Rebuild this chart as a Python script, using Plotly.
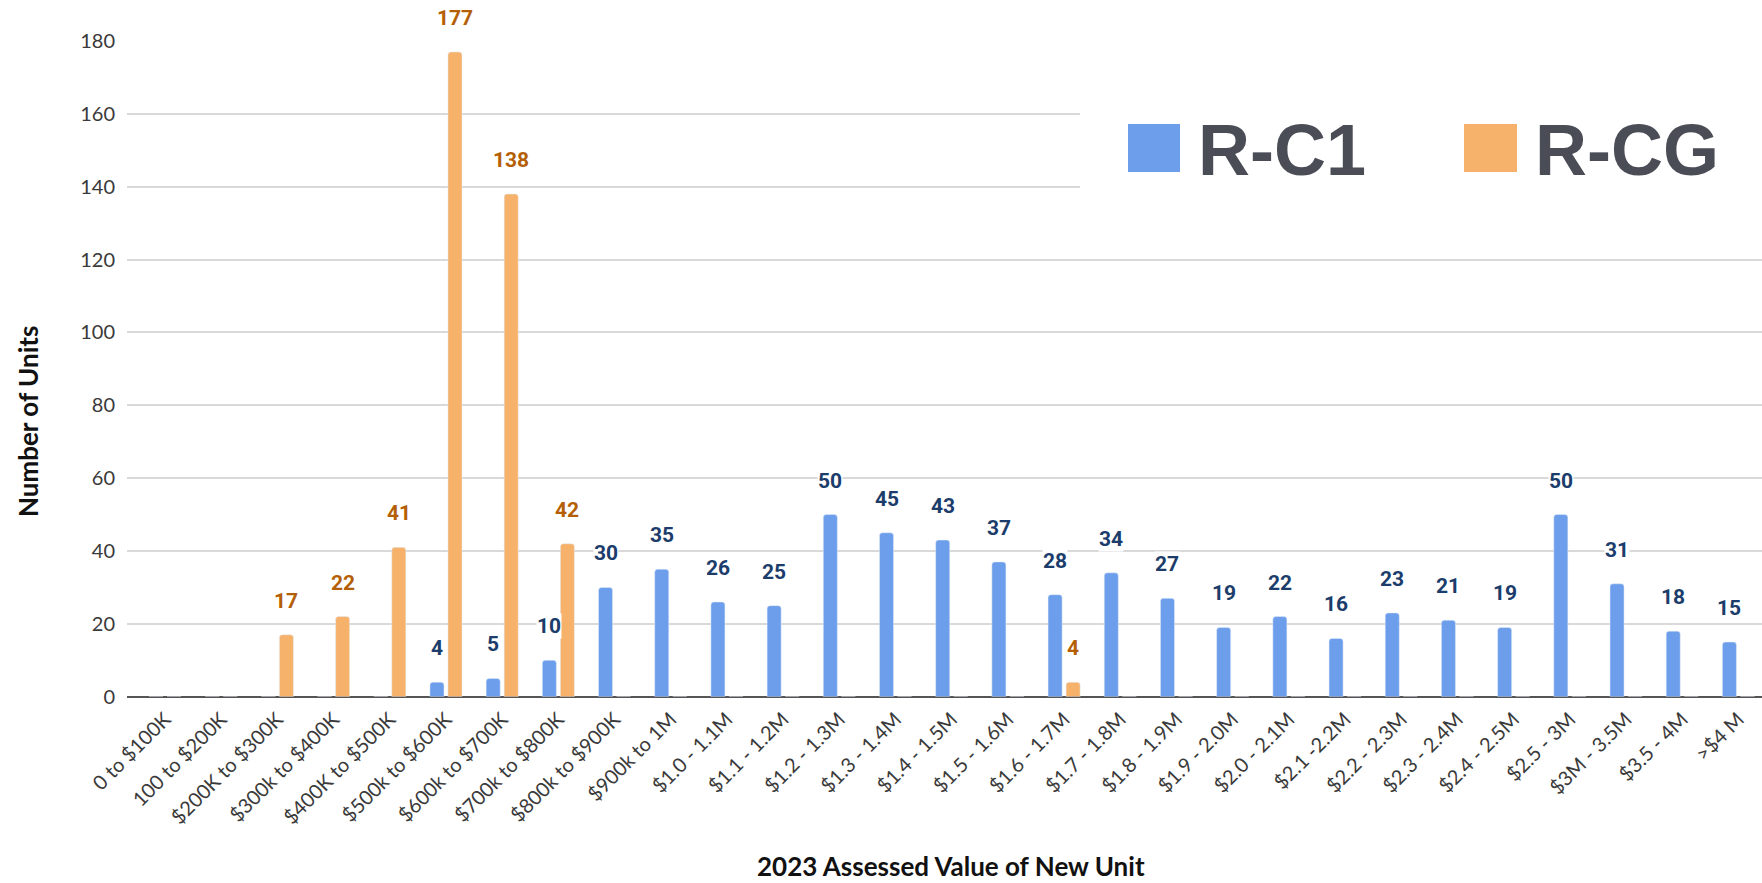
import plotly.graph_objects as go

categories = ["0 to $100K", "100 to $200K", "$200K to $300K", "$300k to $400K", "$400K to $500K",
              "$500k to $600K", "$600k to $700K", "$700k to $800K", "$800k to $900K", "$900k to 1M",
              "$1.0 - 1.1M", "$1.1 - 1.2M", "$1.2 - 1.3M", "$1.3 - 1.4M", "$1.4 - 1.5M",
              "$1.5 - 1.6M", "$1.6 - 1.7M", "$1.7 - 1.8M", "$1.8 - 1.9M", "$1.9 - 2.0M",
              "$2.0 - 2.1M", "$2.1 -2.2M", "$2.2 - 2.3M", "$2.3 - 2.4M", "$2.4 - 2.5M",
              "$2.5 - 3M", "$3M - 3.5M", "$3.5 - 4M", ">$4 M"]
rc1 = [0, 0, 0, 0, 0, 4, 5, 10, 30, 35, 26, 25, 50, 45, 43, 37, 28, 34, 27, 19,
       22, 16, 23, 21, 19, 50, 31, 18, 15]
rcg = [0, 0, 17, 22, 41, 177, 138, 42, 0, 0, 0, 0, 0, 0, 0, 0, 4, 0, 0, 0,
       0, 0, 0, 0, 0, 0, 0, 0, 0]
y_ticks = [0, 20, 40, 60, 80, 100, 120, 140, 160, 180]

W, H = 1762, 883
BLUE = "#6d9eeb"
ORANGE = "#f6b26b"
BLUE_TXT = "#1c3d6b"
ORANGE_TXT = "#b45f06"

def px(x):
    return x / W

def py(y):
    return 1 - y / H

fig = go.Figure()
fig.add_trace(go.Bar(x=categories, y=rc1, name="R-C1", marker_color=BLUE,
                     width=0.25, offset=-0.285))
fig.add_trace(go.Bar(x=categories, y=rcg, name="R-CG", marker_color=ORANGE,
                     width=0.25, offset=0.036))

annotations = []
for c, v in zip(categories, rc1):
    if v:
        annotations.append(dict(x=c, y=v, xref="x", yref="y", text=f"<b>{v}</b>",
                                showarrow=False, xshift=-9, yshift=34, yanchor="middle",
                                bgcolor="white", borderpad=0,
                                font=dict(family="Roboto", size=21, color=BLUE_TXT)))
for c, v in zip(categories, rcg):
    if v:
        annotations.append(dict(x=c, y=v, xref="x", yref="y", text=f"<b>{v}</b>",
                                showarrow=False, xshift=9, yshift=34, yanchor="middle",
                                bgcolor="white", borderpad=0,
                                font=dict(family="Roboto", size=21, color=ORANGE_TXT)))

# axis titles
annotations.append(dict(x=px(951), y=py(866), xref="paper", yref="paper",
                        text="<b>2023 Assessed Value of New Unit</b>", showarrow=False,
                        xanchor="center", yanchor="middle",
                        font=dict(family="Lato", size=26, color="#111111")))
annotations.append(dict(x=px(28), y=py(422), xref="paper", yref="paper",
                        text="<b>Number of Units</b>", showarrow=False, textangle=-90,
                        xanchor="center", yanchor="middle",
                        font=dict(family="Lato", size=26, color="#111111")))
# legend text
annotations.append(dict(x=px(1196), y=py(150), xref="paper", yref="paper",
                        text="<b>R-C1</b>", showarrow=False, xanchor="left", yanchor="middle",
                        font=dict(family="Liberation Sans", size=72, color="#4a4d55")))
annotations.append(dict(x=px(1533), y=py(150), xref="paper", yref="paper",
                        text="<b>R-CG</b>", showarrow=False, xanchor="left", yanchor="middle",
                        font=dict(family="Liberation Sans", size=72, color="#4a4d55")))

shapes = [
    dict(type="rect", xref="paper", yref="paper", x0=px(1080), x1=1, y0=py(220), y1=py(60),
         fillcolor="white", line=dict(width=0), layer="above"),
    dict(type="rect", xref="paper", yref="paper", x0=px(1128), x1=px(1180), y0=py(172), y1=py(124),
         fillcolor=BLUE, line=dict(width=0), layer="above"),
    dict(type="rect", xref="paper", yref="paper", x0=px(1464), x1=px(1517), y0=py(172), y1=py(124),
         fillcolor=ORANGE, line=dict(width=0), layer="above"),
]

fig.update_layout(
    width=W, height=H,
    margin=dict(l=0, r=0, t=0, b=0, autoexpand=False),
    paper_bgcolor="white", plot_bgcolor="white",
    barmode="group", barcornerradius=3,
    showlegend=False,
    annotations=annotations, shapes=shapes,
    xaxis=dict(domain=[px(127), 1], range=[-0.676, 28.42], tickangle=-45,
               tickfont=dict(family="Lato", size=20, color="#3a3a3a"),
               showgrid=False, showline=False, zeroline=False, ticks="",
               ticklabelstandoff=6, automargin=False),
    yaxis=dict(domain=[py(696.7), py(41)], range=[0, 180], tickvals=y_ticks,
               tickfont=dict(family="Lato", size=20, color="#3a3a3a"),
               showgrid=True, gridcolor="#d9d9d9", gridwidth=2,
               zeroline=True, zerolinecolor="#555555", zerolinewidth=2,
               showline=False, ticks="", ticklabelstandoff=11, automargin=False),
)

fig.write_html("out.html", config={"displayModeBar": False},
               post_script="document.body.style.margin='0';document.body.style.overflow='hidden';")
